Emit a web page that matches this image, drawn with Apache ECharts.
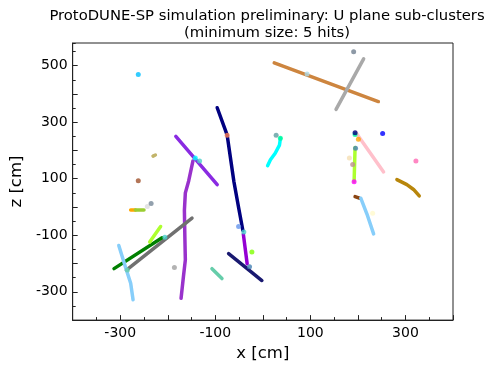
<!DOCTYPE html>
<html>
<head>
<meta charset="utf-8">
<script src="https://cdn.jsdelivr.net/npm/echarts@6/dist/echarts.min.js"></script>
<style>
  html, body { margin: 0; padding: 0; background: #fff; }
  #chart { width: 488px; height: 367px; }
</style>
</head>
<body>
<div id="chart"></div>
<script>
// U-plane sub-clusters, hit positions as [x, z] in cm

// Track-like sub-clusters (ordered hits along each track)
const trackBlueViolet = [[-183, 250], [-96, 79]];
const trackDarkVioletLong = [[-147, 163], [-156, 92], [-163, 50], [-165, -12], [-164, -107], [-163, -187], [-167, -246], [-172, -323]];
const trackNavy = [[-96, 351], [-75, 254], [-61, 91], [-51, -2], [-42, -83]];
const trackDarkVioletShort = [[-41, -96], [-33, -201]];
const trackMidnight = [[-72, -165], [-33, -218], [-2, -260]];
const trackAquamarine = [[-107, -218], [-86, -253]];
const trackDimGray = [[-149, -39], [-287, -223]];
const trackGreen = [[-313, -218], [-212, -109]];
const trackGreenYellowShort = [[-238, -124], [-215, -69]];
const trackSkyLeft = [[-303, -136], [-289, -212], [-278, -270], [-273, -328]];
const trackOrange = [[-278, -11], [-268, -11]];
const trackYellowGreen = [[-268, -11], [-250, -11]];
const trackKhaki = [[-231, 180], [-226, 184]];
const trackPeru = [[24, 510], [243, 373]];
const trackDarkGray = [[212, 524], [154, 345]];
const trackCyan = [[37, 243], [35, 219], [26, 190], [16, 167], [10, 146]];
const trackPink = [[196, 263], [254, 124]];
const trackGreenYellowLong = [[194, 210], [192, 91]];
const trackGoldenrod = [[282, 97], [303, 79], [317, 62], [329, 39]];
const trackSaddleBrown = [[194, 37], [203, 31]];
const trackSkyRight = [[206, 31], [219, -25], [233, -95]];

// Compact sub-clusters (a handful of hits each)
const blobDeepSky = [[-262, 469]];
const blobSienna = [[-262, 93]];
const blobCoral = [[-75, 254]];
const blobChartreuse = [[-23, -159]];
const blobCornflower = [[-51, -69]];
const blobSteel = [[-28, -211], [195, 208]];
const blobGray = [[-186, -214]];
const blobGainsboro = [[-243, 2]];
const blobLightSlate = [[-235, 12]];
const blobSlate = [[191, 549]];
const blobCadet = [[28, 254]];
const blobSpring = [[37, 243], [194, 256]];
const blobBlue = [[252, 260]];
const blobHotPink = [[322, 163]];
const blobLemon = [[231, -22]];
const blobNavy = [[194, 263]];
const blobOrange = [[201, 240]];
const blobMagenta = [[192, 89]];
const blobAqua = [[-142, 173]];
const blobTurquoise = [[-133, 163], [-40, -88], [-206, -107]];
const blobLightBlue = [[93, 470]];
const blobWheat = [[182, 173]];
const blobRosy = [[189, 150]];
const blobMint = [[-285, -223]];

// Axis tick labels
const xTickLabels = [-300, -100, 100, 300];
const zTickLabels = [-300, -100, 100, 300, 500];

const tracks = [
  [trackPeru, '#cd853f'], [trackDarkGray, '#a9a9a9'],
  [trackBlueViolet, '#8a2be2'], [trackDarkVioletLong, '#9932cc'],
  [trackNavy, '#000080'], [trackDarkVioletShort, '#9400d3'],
  [trackMidnight, '#191970'], [trackAquamarine, '#66cdaa'],
  [trackDimGray, '#707070'], [trackGreen, '#008000'],
  [trackGreenYellowShort, '#adff2f'], [trackSkyLeft, '#87cefa'],
  [trackOrange, '#ffa500'], [trackYellowGreen, '#9acd32'],
  [trackKhaki, '#c2b46a'], [trackCyan, '#00ffff'],
  [trackPink, '#ffc0cb'], [trackGreenYellowLong, '#adff2f'],
  [trackGoldenrod, '#b8860b'], [trackSaddleBrown, '#8b4513'],
  [trackSkyRight, '#87cefa']
];

const blobs = [
  [blobDeepSky, '#00bfff'], [blobSienna, '#a0522d'], [blobCoral, '#ff7f50'],
  [blobChartreuse, '#7fff00'], [blobCornflower, '#6495ed'], [blobSteel, '#4682b4'],
  [blobGray, '#a0a0a0'], [blobGainsboro, '#dcdcdc'], [blobLightSlate, '#778899'],
  [blobSlate, '#708090'], [blobCadet, '#5f9ea0'], [blobSpring, '#00fa9a'],
  [blobBlue, '#0000ff'], [blobHotPink, '#ff69b4'], [blobLemon, '#fffacd'],
  [blobNavy, '#000080'], [blobOrange, '#ffa500'], [blobMagenta, '#ff00ff'],
  [blobAqua, '#00ffff'], [blobTurquoise, '#48d1cc'], [blobLightBlue, '#add8e6'],
  [blobWheat, '#f5deb3'], [blobRosy, '#bc8f8f'], [blobMint, '#66cdaa']
];

const series = [];
tracks.forEach(function (t, i) {
  series.push({
    type: 'line', name: 'track' + i, data: t[0], showSymbol: false, silent: true,
    lineStyle: { color: t[1], width: 3.5, cap: 'round', join: 'round' },
    z: 2
  });
});
blobs.forEach(function (b, i) {
  series.push({
    type: 'scatter', name: 'blob' + i, data: b[0], symbolSize: 5, silent: true,
    itemStyle: { color: b[1] }, z: 3
  });
});

const font = 'DejaVu Sans';
const chart = echarts.init(document.getElementById('chart'), null, { renderer: 'canvas' });
chart.setOption({
  animation: false,
  backgroundColor: '#fff',
  title: {
    text: 'ProtoDUNE-SP simulation preliminary: U plane sub-clusters\n(minimum size: 5 hits)',
    left: 262, top: 3, textAlign: 'center',
    textStyle: { fontFamily: font, fontSize: 14.8, fontWeight: 'normal', color: '#000', lineHeight: 17 }
  },
  grid: { left: 72, right: 35, top: 43, bottom: 43, show: true, borderColor: '#222', borderWidth: 1 },
  xAxis: {
    type: 'value', min: -400, max: 400, interval: 100,
    name: 'x [cm]', nameLocation: 'middle', nameGap: 20,
    nameTextStyle: { fontFamily: font, fontSize: 16.5, color: '#000' },
    axisLine: { onZero: false, lineStyle: { color: '#222' } },
    axisTick: { inside: true, length: 5, lineStyle: { color: '#222' } },
    minorTick: { show: true, splitNumber: 2, length: 3, lineStyle: { color: '#222' } },
    splitLine: { show: false },
    axisLabel: {
      margin: 6, fontFamily: font, fontSize: 14, color: '#000',
      formatter: function (v) { return xTickLabels.indexOf(v) >= 0 ? String(v) : ''; }
    }
  },
  yAxis: [{
    type: 'value', min: -400, max: 580, interval: 100,
    name: 'z [cm]', nameLocation: 'middle', nameGap: 41,
    nameTextStyle: { fontFamily: font, fontSize: 16.5, color: '#000' },
    axisLine: { onZero: false, lineStyle: { color: '#222' } },
    axisTick: { inside: true, length: 5, lineStyle: { color: '#222' } },
    splitLine: { show: false },
    axisLabel: {
      margin: 5, fontFamily: font, fontSize: 14, color: '#000', showMaxLabel: false,
      formatter: function (v) { return zTickLabels.indexOf(v) >= 0 ? String(v) : ''; }
    }
  }, {
    // minor ticks every 50 cm along z
    type: 'value', min: -400, max: 580, interval: 50, position: 'left',
    axisLine: { show: false, onZero: false },
    axisTick: { inside: true, length: 3, lineStyle: { color: '#222' } },
    axisLabel: { show: false },
    splitLine: { show: false }
  }],
  series: series
});
</script>
</body>
</html>
